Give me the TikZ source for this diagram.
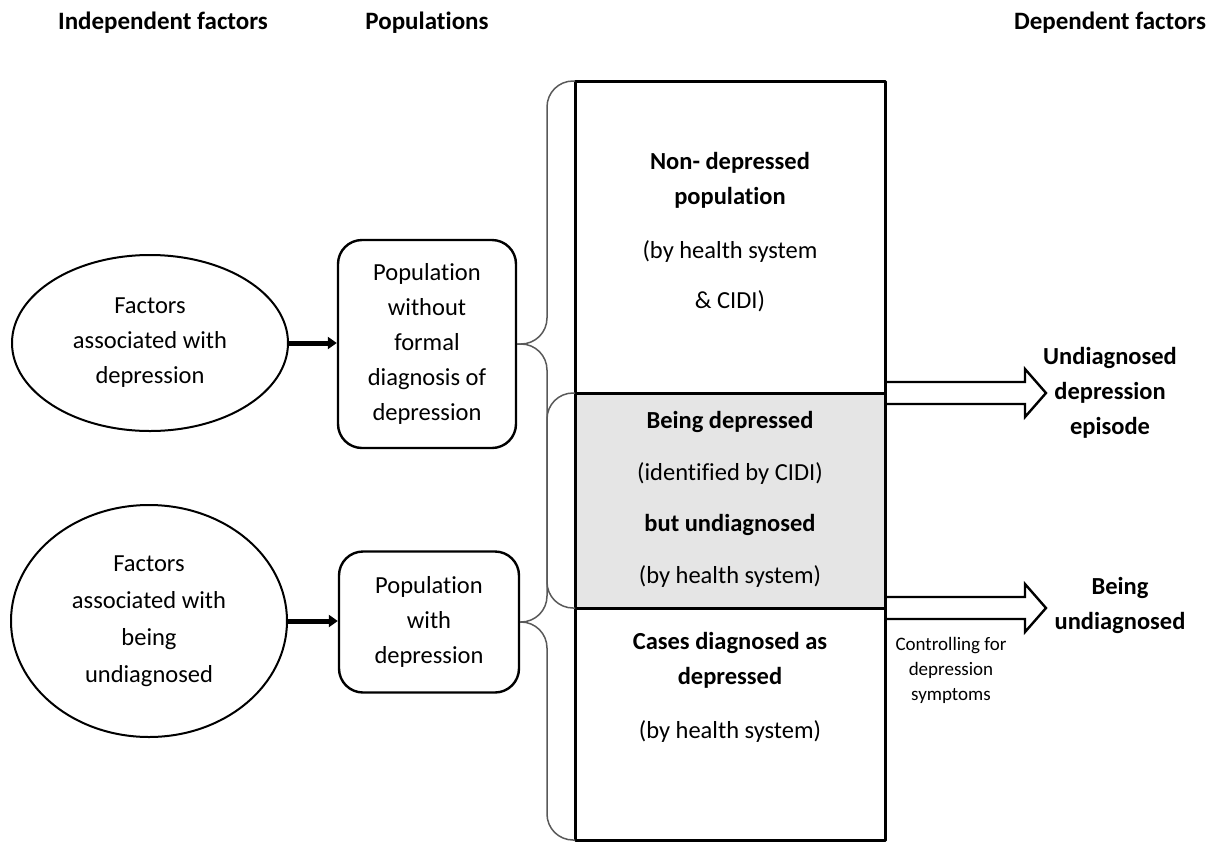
\documentclass[tikz,border=0pt]{standalone}
\usepackage{fontspec}
\setmainfont{Carlito}[Ligatures=NoCommon]
\usetikzlibrary{shapes.geometric,arrows.meta}
\begin{document}
\begin{tikzpicture}[x=0.5pt,y=-0.5pt,line join=round,font=\fontsize{12.25}{17.5}\selectfont]
	\tikzset{factor/.style={draw,ellipse,line width=1pt,inner sep=0pt,minimum width=138pt,align=center},
		popbox/.style={draw,rounded corners=12pt,line width=1.2pt,inner sep=0pt,align=center},
		section/.style={draw,line width=1.5pt,minimum width=155pt,inner sep=0pt,outer sep=0pt},
		brace/.style={draw=black!65,line width=0.75pt,rounded corners=13pt},
		feed/.style={line width=2.5pt,-{Triangle[length=4.5pt,width=6pt]}},
		outarrow/.style={line width=1.2pt,line join=miter},
		colhead/.style={font=\fontsize{12.5}{15}\selectfont\bfseries},
		result/.style={align=center,font=\fontsize{12.25}{17.5}\selectfont\bfseries}}
	\useasboundingbox (0,0) rectangle (1207,842);
	% column titles
	\node[colhead] (indep) at (163,23) {Independent factors};
	\node[colhead] (pops) at (427,23) {Populations};
	\node[colhead] (dep) at (1110,23) {Dependent factors};
	% factors and populations
	\node[factor,minimum height=88pt] (fac1) at (150,343) {Factors\\associated with\\depression};
	\node[factor,minimum height=116pt,font=\fontsize{12.25}{18.5}\selectfont] (fac2) at (149,621) {Factors\\associated with\\being\\undiagnosed};
	\node[popbox,minimum width=89pt,minimum height=104pt] (box1) at (427,344) {Population\\without\\formal\\diagnosis of\\depression};
	\node[popbox,minimum width=90pt,minimum height=70.5pt] (box2) at (429,622) {Population\\with\\depression};
	\draw[feed] (fac1.east) -- (fac1.east -| box1.west);
	\draw[feed] (fac2.east) -- (fac2.east -| box2.west);
	% the three parts of the population
	\node[section,minimum height=156pt] (nondep) at (730,237) {};
	\node[section,minimum height=107.5pt,fill=gray!20] (undiag) at (730,500.5) {};
	\node[section,minimum height=116pt] (diag) at (730,724) {};
	\node[align=center] (nondeptext) at (730,232) {\textbf{Non- depressed}\\\textbf{population}\\[9.5pt](by health system\\[7.5pt]\& CIDI)};
	\node[align=center] (undiagtext) at (730,499.5) {\textbf{Being depressed}\\[8.5pt](identified by CIDI)\\[8pt]\textbf{but undiagnosed}\\[8.5pt](by health system)};
	\node[align=center] (diagtext) at (730,687) {\textbf{Cases diagnosed as}\\\textbf{depressed}\\[9.5pt](by health system)};
	% braces
	\draw[brace] (nondep.north west) -- ++(-28,0) |- (box1.east);
	\draw[brace] (box1.east) -| ([xshift=-14pt]undiag.south west) -- (undiag.south west);
	\draw[brace] (undiag.north west) -- ++(-28,0) |- (box2.east);
	\draw[brace] (box2.east) -| ([xshift=-14pt]diag.south west) -- (diag.south west);
	% outcomes
	\foreach \a in {nondep.south east,diag.north east}
		\draw[outarrow] (\a) ++(0,-11) -- ++(140,0) -- ++(0,-13) -- ++(21,24) -- ++(-21,24) -- ++(0,-13) -- ++(-140,0);
	\node[result] (episode) at (1110,393) {Undiagnosed\\depression\\episode};
	\node[result] (beingund) at (1120,605) {Being\\undiagnosed};
	\node[align=center,font=\fontsize{9.5}{12.5}\selectfont] (control) at (951,670) {Controlling for\\depression\\symptoms};
\end{tikzpicture}
\end{document}
